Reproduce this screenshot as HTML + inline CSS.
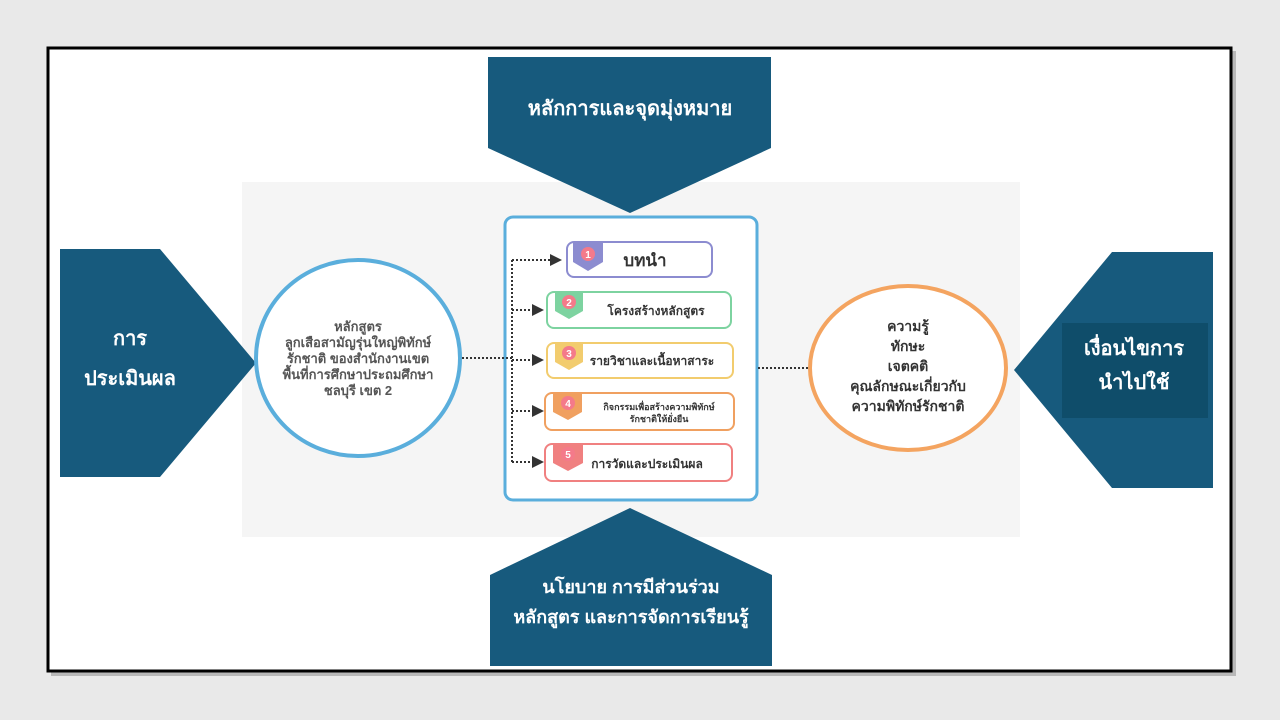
<!DOCTYPE html>
<html><head><meta charset="utf-8"><style>
body{margin:0;width:1280px;height:720px;background:#e9e9e9;overflow:hidden}
svg{display:block}
text{font-family:"Liberation Sans","DejaVu Sans","Noto Sans CJK SC",sans-serif;font-weight:bold}
</style></head><body>
<svg width="1280" height="720" viewBox="0 0 1280 720">
<defs><marker id="a" markerWidth="6" markerHeight="6" refX="5" refY="3" orient="auto"><path d="M0,0L6,3L0,6z" fill="#333"/></marker></defs>
<rect x="51" y="51" width="1185" height="625" fill="#888" opacity=".5"/>
<rect x="48" y="48" width="1183" height="623" fill="#fff" stroke="#000" stroke-width="3"/>
<rect x="242" y="182" width="778" height="355" fill="#f5f5f5"/>
<g fill="#175a7d">
<polygon points="488,57 771,57 771,148 630,213 488,148"/>
<polygon points="490,666 772,666 772,575 630,508 490,575"/>
<polygon points="60,249 160,249 256,363 160,477 60,477"/>
<polygon points="1213,252 1112,252 1014,370 1112,488 1213,488"/>
</g>
<rect x="1062" y="323" width="146" height="95" fill="#0f4d6a"/>
<g fill="#fff" font-size="20" text-anchor="middle">
<text x="630" y="115">หลักการและจุดมุ่งหมาย</text>
<text x="631" y="593" font-size="18">นโยบาย การมีส่วนร่วม</text>
<text x="631" y="623" font-size="18">หลักสูตร และการจัดการเรียนรู้</text>
<text x="130" y="345">การ</text>
<text x="130" y="385">ประเมินผล</text>
<text x="1134" y="355">เงื่อนไขการ</text>
<text x="1134" y="389">นำไปใช้</text>
</g>
<ellipse cx="358" cy="358" rx="102" ry="98" fill="#fff" stroke="#5aaedc" stroke-width="4"/>
<g font-size="13" fill="#555" text-anchor="middle">
<text x="358" y="331">หลักสูตร</text>
<text x="358" y="347">ลูกเสือสามัญรุ่นใหญ่พิทักษ์</text>
<text x="358" y="363">รักชาติ ของสำนักงานเขต</text>
<text x="358" y="379">พื้นที่การศึกษาประถมศึกษา</text>
<text x="358" y="395">ชลบุรี เขต 2</text>
</g>
<ellipse cx="908" cy="368" rx="98" ry="82" fill="#fff" stroke="#f4a460" stroke-width="4"/>
<g font-size="14" fill="#333" text-anchor="middle">
<text x="908" y="331">ความรู้</text>
<text x="908" y="351">ทักษะ</text>
<text x="908" y="371">เจตคติ</text>
<text x="908" y="391">คุณลักษณะเกี่ยวกับ</text>
<text x="908" y="411">ความพิทักษ์รักชาติ</text>
</g>
<rect x="505" y="217" width="252" height="283" rx="8" fill="#fff" stroke="#5aaedc" stroke-width="3"/>
<g stroke="#333" stroke-width="2" stroke-dasharray="2,2" fill="none">
<line x1="462" y1="358" x2="512" y2="358"/>
<line x1="512" y1="260" x2="512" y2="462"/>
<line x1="512" y1="260" x2="560" y2="260" marker-end="url(#a)"/>
<line x1="512" y1="310" x2="542" y2="310" marker-end="url(#a)"/>
<line x1="512" y1="360" x2="542" y2="360" marker-end="url(#a)"/>
<line x1="512" y1="411" x2="542" y2="411" marker-end="url(#a)"/>
<line x1="512" y1="462" x2="542" y2="462" marker-end="url(#a)"/>
<line x1="758" y1="368" x2="808" y2="368"/>
</g>
<g stroke-width="2" fill="#fff">
<rect x="567" y="242" width="145" height="35" rx="7" stroke="#8c8cd0"/>
<rect x="547" y="292" width="184" height="36" rx="7" stroke="#7dd3a0"/>
<rect x="547" y="343" width="186" height="35" rx="7" stroke="#f2cc6e"/>
<rect x="545" y="393" width="189" height="37" rx="7" stroke="#f0a060"/>
<rect x="545" y="444" width="187" height="37" rx="7" stroke="#f08080"/>
</g>
<g>
<polygon points="573,242 603,242 603,262 588,271 573,262" fill="#8c8cd0"/>
<polygon points="555,292 583,292 583,311 569,319 555,311" fill="#7dd3a0"/>
<polygon points="555,343 583,343 583,362 569,370 555,362" fill="#f2cc6e"/>
<polygon points="553,393 582,393 582,412 568,420 553,412" fill="#f0a060"/>
<polygon points="553,444 583,444 583,463 568,471 553,463" fill="#f08080"/>
</g>
<g fill="#f47a8a"><circle cx="588" cy="254" r="7"/><circle cx="569" cy="302" r="7"/><circle cx="569" cy="353" r="7"/><circle cx="568" cy="403" r="7"/><circle cx="568" cy="454" r="7"/></g>
<g fill="#fff" font-size="10" text-anchor="middle"><text x="588" y="258">1</text><text x="569" y="306">2</text><text x="569" y="357">3</text><text x="568" y="407">4</text><text x="568" y="458">5</text></g>
<g fill="#333">
<text x="645" y="266" font-size="17" text-anchor="middle">บทนำ</text>
<text x="656" y="315" font-size="12" text-anchor="middle">โครงสร้างหลักสูตร</text>
<text x="652" y="365" font-size="12" text-anchor="middle">รายวิชาและเนื้อหาสาระ</text>
<text x="659" y="410" font-size="9" text-anchor="middle">กิจกรรมเพื่อสร้างความพิทักษ์</text>
<text x="659" y="422" font-size="9" text-anchor="middle">รักชาติให้ยั่งยืน</text>
<text x="647" y="468" font-size="12" text-anchor="middle">การวัดและประเมินผล</text>
</g>
</svg>
</body></html>
